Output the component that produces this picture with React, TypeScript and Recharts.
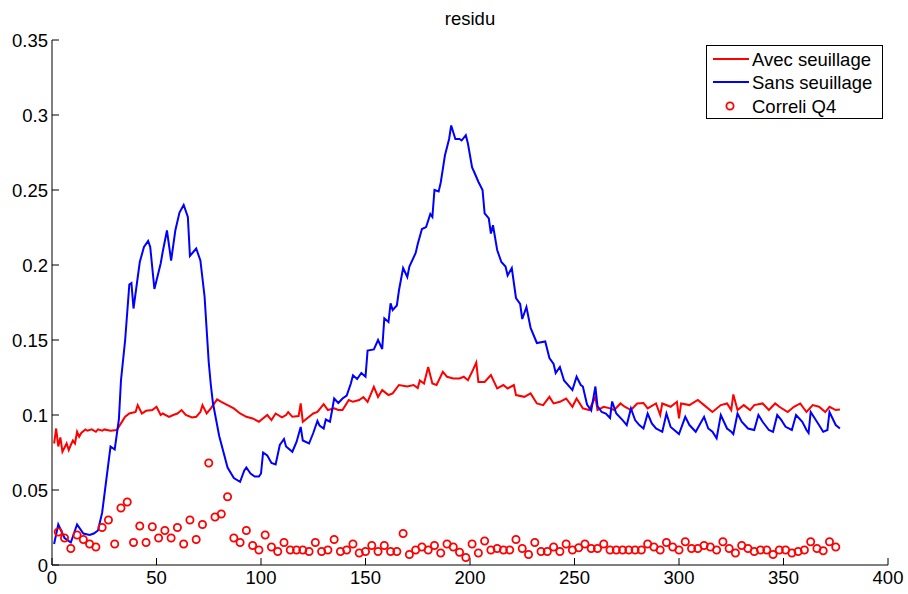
import { ComposedChart, Line, Scatter, XAxis, YAxis, Legend } from "recharts";

// "Avec seuillage" (red line)
const avecX = [1, 2, 3, 4, 5, 7, 8, 9, 10, 11, 12, 13, 14, 16, 17, 19, 21, 22, 24, 25, 28, 31, 33, 35, 37, 40, 41, 43, 45, 48, 50, 52, 53, 56, 58, 60, 62, 64, 67, 69, 71, 72, 74, 76, 79, 81, 84, 87, 90, 93, 96, 99, 103, 105, 107, 110, 112, 113, 115, 118, 119, 120, 123, 125, 127, 130, 132, 135, 137, 139, 142, 144, 147, 149, 151, 154, 156, 158, 161, 163, 166, 170, 173, 175, 176, 178, 180, 182, 184, 187, 189, 192, 195, 197, 199, 201, 203, 204, 207, 210, 213, 216, 218, 221, 222, 226, 229, 232, 235, 238, 240, 243, 246, 249, 251, 254, 257, 260, 261, 264, 267, 269, 272, 274, 277, 280, 283, 285, 289, 291, 292, 296, 299, 300, 301, 305, 309, 312, 316, 320, 323, 325, 326, 328, 331, 334, 336, 340, 343, 346, 348, 352, 355, 358, 361, 364, 367, 370, 372, 375, 377];
const avecY = [0.081, 0.091, 0.079, 0.085, 0.0755, 0.081, 0.0766, 0.08, 0.083, 0.081, 0.0888, 0.0855, 0.088, 0.0904, 0.0895, 0.0904, 0.0888, 0.0904, 0.0895, 0.0904, 0.0895, 0.09, 0.0944, 0.0988, 0.101, 0.102, 0.1066, 0.101, 0.1028, 0.1033, 0.1055, 0.1, 0.101, 0.0988, 0.1, 0.101, 0.1033, 0.1, 0.0984, 0.0988, 0.102, 0.1066, 0.101, 0.1044, 0.1104, 0.1088, 0.1066, 0.1044, 0.101, 0.0988, 0.0977, 0.0955, 0.1, 0.0966, 0.101, 0.0984, 0.1, 0.102, 0.0988, 0.0993, 0.1077, 0.0955, 0.0988, 0.101, 0.102, 0.1072, 0.1033, 0.1044, 0.1033, 0.1033, 0.11, 0.1088, 0.11, 0.112, 0.1088, 0.1188, 0.112, 0.1166, 0.1133, 0.1144, 0.12, 0.119, 0.12, 0.118, 0.123, 0.121, 0.132, 0.121, 0.12, 0.1288, 0.1255, 0.1244, 0.1244, 0.1255, 0.1232, 0.1288, 0.135, 0.122, 0.122, 0.1266, 0.1177, 0.12, 0.1177, 0.12, 0.1133, 0.1121, 0.1144, 0.1077, 0.1066, 0.1121, 0.1077, 0.1088, 0.111, 0.1055, 0.111, 0.1044, 0.1033, 0.112, 0.1033, 0.1055, 0.1044, 0.1033, 0.1077, 0.1055, 0.1033, 0.1077, 0.108, 0.1044, 0.1077, 0.1, 0.1077, 0.1055, 0.1088, 0.0977, 0.1077, 0.1066, 0.11, 0.1066, 0.102, 0.1066, 0.1077, 0.1033, 0.1137, 0.1033, 0.1066, 0.1033, 0.1066, 0.1077, 0.1033, 0.1077, 0.1055, 0.102, 0.1055, 0.1077, 0.102, 0.1066, 0.1055, 0.102, 0.1055, 0.1033, 0.1037];

// "Sans seuillage" (blue line)
const sansX = [1, 3, 6, 9, 12, 15, 18, 20, 22, 24, 26, 28, 30, 32, 33, 35, 37, 38, 39, 42, 44, 46, 47, 49, 52, 53, 55, 57, 59, 61, 63, 65, 66, 69, 71, 73, 75, 76, 77, 80, 84, 87, 90, 92, 93, 95, 97, 99, 100, 101, 103, 105, 107, 109, 111, 112, 115, 117, 119, 120, 123, 125, 127, 128, 130, 131, 133, 134, 135, 137, 139, 141, 143, 144, 146, 148, 150, 151, 154, 156, 158, 159, 161, 162, 163, 165, 166, 168, 170, 171, 174, 175, 177, 179, 181, 182, 183, 185, 186, 188, 190, 191, 193, 195, 196, 198, 199, 201, 202, 204, 206, 207, 209, 210, 211, 213, 215, 217, 218, 220, 222, 224, 225, 227, 229, 232, 236, 238, 240, 241, 243, 245, 249, 251, 253, 254, 256, 258, 260, 261, 263, 265, 267, 268, 270, 273, 275, 277, 279, 281, 283, 285, 287, 289, 292, 294, 296, 300, 303, 305, 308, 312, 314, 316, 318, 320, 323, 325, 326, 328, 330, 333, 336, 338, 340, 343, 345, 347, 349, 351, 354, 356, 359, 361, 362, 363, 366, 369, 371, 372, 375, 377];
const sansY = [0.014, 0.027, 0.018, 0.015, 0.027, 0.021, 0.02, 0.021, 0.023, 0.035, 0.057, 0.079, 0.077, 0.097, 0.123, 0.15, 0.187, 0.188, 0.171, 0.202, 0.212, 0.216, 0.212, 0.184, 0.201, 0.209, 0.223, 0.203, 0.223, 0.235, 0.24, 0.232, 0.206, 0.211, 0.203, 0.179, 0.135, 0.12, 0.108, 0.086, 0.065, 0.058, 0.0555, 0.063, 0.065, 0.061, 0.059, 0.059, 0.061, 0.075, 0.073, 0.068, 0.067, 0.08, 0.084, 0.079, 0.0755, 0.082, 0.092, 0.083, 0.081, 0.088, 0.096, 0.093, 0.091, 0.097, 0.0955, 0.103, 0.111, 0.108, 0.111, 0.113, 0.121, 0.1265, 0.124, 0.128, 0.1255, 0.143, 0.1437, 0.15, 0.144, 0.1645, 0.162, 0.1745, 0.17, 0.173, 0.183, 0.198, 0.192, 0.199, 0.208, 0.214, 0.224, 0.2253, 0.234, 0.232, 0.25, 0.249, 0.255, 0.273, 0.284, 0.293, 0.284, 0.284, 0.283, 0.2865, 0.281, 0.265, 0.262, 0.2555, 0.25, 0.2345, 0.231, 0.221, 0.2265, 0.21, 0.202, 0.199, 0.193, 0.198, 0.178, 0.174, 0.164, 0.172, 0.158, 0.148, 0.149, 0.138, 0.134, 0.128, 0.132, 0.123, 0.1166, 0.1255, 0.12, 0.119, 0.107, 0.103, 0.119, 0.106, 0.102, 0.101, 0.098, 0.109, 0.101, 0.0966, 0.0933, 0.1044, 0.0966, 0.0933, 0.091, 0.101, 0.0944, 0.091, 0.0888, 0.101, 0.092, 0.0873, 0.0988, 0.0933, 0.0888, 0.0988, 0.091, 0.0888, 0.0844, 0.1, 0.091, 0.0888, 0.0873, 0.101, 0.0955, 0.091, 0.09, 0.1, 0.0955, 0.09, 0.0888, 0.1, 0.0966, 0.0921, 0.09, 0.1, 0.0955, 0.09, 0.088, 0.102, 0.0955, 0.0888, 0.09, 0.102, 0.0933, 0.091];

// "Correli Q4" circles, one every 3 samples (x = 3, 6, ..., 375)
const correliY = [0.022, 0.018, 0.011, 0.02, 0.017, 0.014, 0.012, 0.025, 0.03, 0.014, 0.038, 0.042, 0.015, 0.026, 0.015, 0.0255, 0.018, 0.023, 0.018, 0.025, 0.014, 0.03, 0.017, 0.027, 0.068, 0.032, 0.034, 0.0455, 0.018, 0.015, 0.023, 0.013, 0.01, 0.02, 0.012, 0.009, 0.015, 0.01, 0.01, 0.01, 0.009, 0.015, 0.009, 0.01, 0.017, 0.009, 0.01, 0.014, 0.008, 0.009, 0.013, 0.009, 0.013, 0.009, 0.009, 0.021, 0.007, 0.01, 0.012, 0.01, 0.013, 0.008, 0.014, 0.012, 0.0085, 0.005, 0.014, 0.008, 0.016, 0.01, 0.011, 0.01, 0.01, 0.017, 0.011, 0.007, 0.015, 0.009, 0.009, 0.012, 0.009, 0.014, 0.01, 0.0115, 0.014, 0.011, 0.011, 0.014, 0.01, 0.01, 0.01, 0.01, 0.01, 0.01, 0.014, 0.012, 0.01, 0.015, 0.012, 0.01, 0.0155, 0.011, 0.011, 0.013, 0.012, 0.01, 0.0155, 0.011, 0.008, 0.013, 0.011, 0.009, 0.01, 0.01, 0.007, 0.01, 0.01, 0.008, 0.009, 0.01, 0.0155, 0.011, 0.0095, 0.0155, 0.012];

const xTicks = [0, 50, 100, 150, 200, 250, 300, 350, 400];
const yTicks = [0, 0.05, 0.1, 0.15, 0.2, 0.25, 0.3, 0.35];

const avecData = avecX.map((x, i) => ({ x, y: avecY[i] }));
const sansData = sansX.map((x, i) => ({ x, y: sansY[i] }));
const correliData = correliY.map((y, i) => ({ x: (i + 1) * 3, y }));

const FONT = '"Liberation Sans", Arial, Helvetica, sans-serif';

const RingDot = (props: any) => {
  const { cx, cy } = props;
  return <circle cx={cx} cy={cy} r={3.6} fill="none" stroke="#ff0000" strokeWidth={1.8} />;
};

const LegendBox = () => (
  <svg width={178} height={75} style={{ display: "block", fontFamily: FONT }}>
    <rect x={0.5} y={0.5} width={176} height={73} fill="#fff" stroke="#000" strokeWidth={1} />
    <line x1={7} x2={43} y1={14} y2={14} stroke="#ff0000" strokeWidth={2} />
    <text x={46} y={21} fontSize={18.5} fill="#000">Avec seuillage</text>
    <line x1={7} x2={43} y1={37} y2={37} stroke="#0000ff" strokeWidth={2} />
    <text x={46} y={44} fontSize={18.5} fill="#000">Sans seuillage</text>
    <circle cx={24} cy={61} r={3.6} fill="none" stroke="#ff0000" strokeWidth={1.8} />
    <text x={46} y={68} fontSize={18.5} fill="#000">Correli Q4</text>
  </svg>
);

export default function App() {
  return (
    <div style={{ position: "absolute", left: 0, top: 0, width: 908, height: 594, background: "#fff", fontFamily: FONT }}>
      <div style={{ position: "absolute", left: 52, width: 836, top: 8, textAlign: "center", fontSize: 18.5, color: "#000", lineHeight: "normal" }}>
        residu
      </div>
      <ComposedChart width={908} height={594} margin={{ top: 40, right: 20, left: 0, bottom: 0 }}>
        <XAxis
          dataKey="x"
          type="number"
          domain={[0, 400]}
          ticks={xTicks}
          interval={0}
          height={29}
          tickSize={-7}
          tickMargin={13}
          stroke="#000"
          tick={{ fill: "#000", fontSize: 18.5, fontFamily: FONT }}
        />
        <YAxis
          type="number"
          domain={[0, 0.35]}
          ticks={yTicks}
          interval={0}
          width={52}
          tickSize={-7}
          tickMargin={11}
          stroke="#000"
          tickFormatter={(v: number) => String(Number(v.toFixed(2)))}
          tick={{ fill: "#000", fontSize: 18.5, fontFamily: FONT }}
        />
        <Legend
          layout="vertical"
          align="center"
          verticalAlign="middle"
          wrapperStyle={{ position: "absolute", left: 706, top: 45, width: 178, height: 75 }}
          content={() => <LegendBox />}
        />
        <Line data={avecData} dataKey="y" name="Avec seuillage" type="linear" stroke="#ff0000" strokeWidth={2} dot={false} isAnimationActive={false} />
        <Line data={sansData} dataKey="y" name="Sans seuillage" type="linear" stroke="#0000ff" strokeWidth={2} dot={false} isAnimationActive={false} />
        <Scatter data={correliData} dataKey="y" name="Correli Q4" shape={RingDot} isAnimationActive={false} />
      </ComposedChart>
    </div>
  );
}
